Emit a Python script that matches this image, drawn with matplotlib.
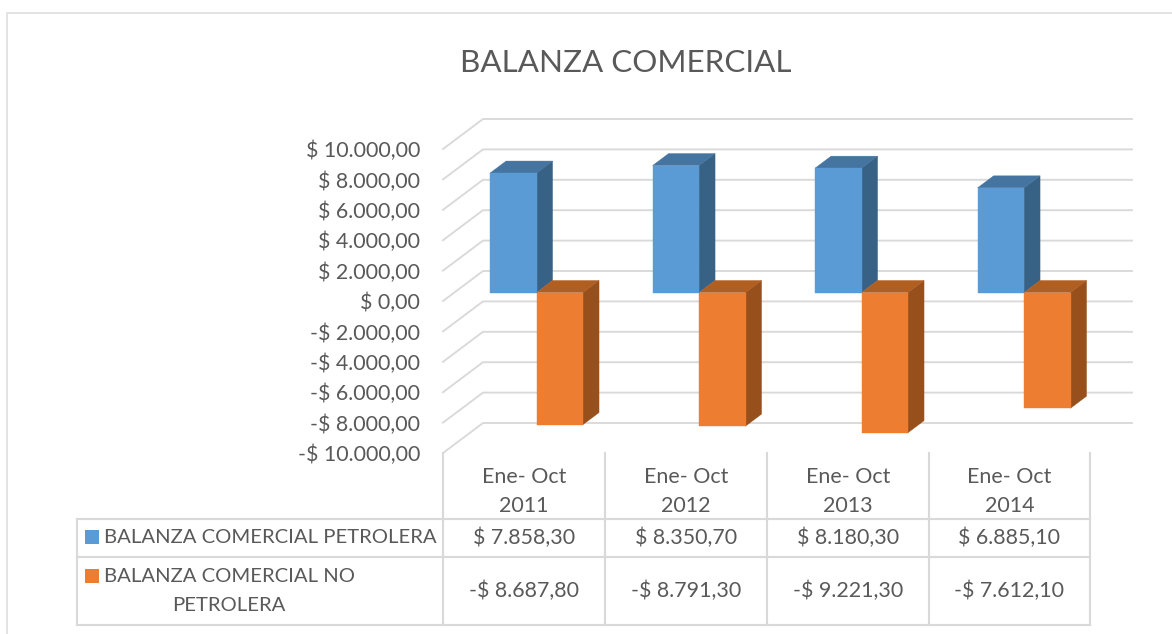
import matplotlib
matplotlib.use("Agg")
import matplotlib.pyplot as plt
from matplotlib.patches import Polygon
from matplotlib.transforms import IdentityTransform
from matplotlib.ticker import FuncFormatter

plt.rcParams['font.family'] = ['Lato', 'DejaVu Sans']

# data
categories = ["Ene- Oct\n2011", "Ene- Oct\n2012", "Ene- Oct\n2013", "Ene- Oct\n2014"]
petrolera = [7858.30, 8350.70, 8180.30, 6885.10]
no_petrolera = [-8687.80, -8791.30, -9221.30, -7612.10]
label_petrolera = "BALANZA COMERCIAL PETROLERA"
label_no_petrolera = "BALANZA COMERCIAL NO\nPETROLERA"
y_ticks = [-10000, -8000, -6000, -4000, -2000, 0, 2000, 4000, 6000, 8000, 10000]

W, H = 1172, 634
TEXT = "#595959"
GRID = "#d9d9d9"
LW = 1.35


def money(v, pos=None):
    s = f"{abs(v):,.2f}".replace(",", "X").replace(".", ",").replace("X", ".")
    return ("-$ " if v < 0 else "$ ") + s


fig = plt.figure(figsize=(W / 100, H / 100), dpi=100)

# overlay in pixels for the frame and the data table
over = fig.add_axes([0, 0, 1, 1])
over.set_xlim(0, W)
over.set_ylim(H, 0)
over.axis("off")

# plot area: front plane of the 3d box
x0, x1, ytop, ybot = 443, 1093, 149, 453
ax = fig.add_axes([x0 / W, 1 - ybot / H, (x1 - x0) / W, (ybot - ytop) / H])
ax.set_xlim(0, 4)
ax.set_ylim(-10000, 10000)
ax.patch.set_alpha(0)
for s in ax.spines.values():
    s.set_visible(False)
ax.set_xticks([])
ax.set_yticks(y_ticks)
ax.yaxis.set_major_formatter(FuncFormatter(money))
ax.tick_params(axis="y", length=0, pad=16.5, labelsize=15.4, labelcolor=TEXT)


def shifted(pts, dx, dy):
    # data coords -> pixels, then pushed back into the depth
    out = ax.transData.transform(pts)
    out[:, 0] += dx
    out[:, 1] += dy
    return out


# walls
for v in y_ticks:
    a = shifted([(0, v)], 0, 0)[0]
    b = shifted([(0, v)], 40, 30)[0]
    c = shifted([(4, v)], 39, 30)[0]
    ax.plot([a[0], b[0], c[0]], [a[1], b[1], c[1]], color=GRID, lw=LW,
            transform=IdentityTransform(), clip_on=False, zorder=1)

# bars
bar_w = 0.286
bar_dx, bar_dy = 12.3, 8.5
dep_x, dep_y = 16, 12


def bar3d(x, v, front, top, side):
    y0, y1 = min(v, 0), max(v, 0)
    f = shifted([(x, y0), (x + bar_w, y0), (x + bar_w, y1), (x, y1)], bar_dx, bar_dy)
    t = shifted([(x, y1), (x + bar_w, y1)], bar_dx, bar_dy)
    r = shifted([(x + bar_w, y0), (x + bar_w, y1)], bar_dx, bar_dy)
    side_pts = [r[0], r[1], r[1] + (dep_x, dep_y), r[0] + (dep_x, dep_y)]
    top_pts = [t[0], t[1], t[1] + (dep_x, dep_y), t[0] + (dep_x, dep_y)]
    for pts, col in ((side_pts, side), (top_pts, top), (f, front)):
        ax.add_patch(Polygon(pts, closed=True, facecolor=col, edgecolor=col, lw=0.3,
                             transform=IdentityTransform(), clip_on=False, zorder=3))


for i in range(len(categories)):
    cx = i + 0.5
    bar3d(cx - bar_w, petrolera[i], "#5b9bd5", "#44749f", "#376285")
    bar3d(cx, no_petrolera[i], "#ed7d31", "#b15e21", "#974f1b")

# title
over.text(626, 63.5, "BALANZA COMERCIAL", ha="center", va="center", fontsize=22.6, color=TEXT)

# outer frame
over.plot([7, 7, W], [H, 13, 13], color="#e2e2e2", lw=LW, clip_on=False)

# table lines
col_x = [443, 605, 767, 929, 1090]
row_y = [519, 557, 625]
for x in col_x:
    over.plot([x, x], [453, 625], color=GRID, lw=LW + 0.2)
over.plot([77, 77], [519, 625], color=GRID, lw=LW + 0.2)
for y in row_y:
    over.plot([77, 1090], [y, y], color=GRID, lw=LW + 0.2)

# table text
for i, c in enumerate(categories):
    cx = (col_x[i] + col_x[i + 1]) / 2
    over.text(cx, 491.5, c, ha="center", va="center", fontsize=15.4, color=TEXT, linespacing=1.6)
    over.text(cx, 538, money(petrolera[i]), ha="center", va="center", fontsize=15.4, color=TEXT)
    over.text(cx, 590.5, money(no_petrolera[i]), ha="center", va="center", fontsize=15.4, color=TEXT)

over.add_patch(plt.Rectangle((85, 530), 14, 14, color="#5b9bd5", lw=0))
over.add_patch(plt.Rectangle((85, 569), 14, 14, color="#ed7d31", lw=0))
over.text(104, 537.5, label_petrolera, ha="left", va="center", fontsize=14.6, color=TEXT)
line1, line2 = label_no_petrolera.split("\n")
over.text(104, 576.5, line1, ha="left", va="center", fontsize=14.6, color=TEXT)
over.text(229, 605.5, line2, ha="center", va="center", fontsize=14.6, color=TEXT)

fig.savefig("out.png", dpi=100, facecolor="white")
